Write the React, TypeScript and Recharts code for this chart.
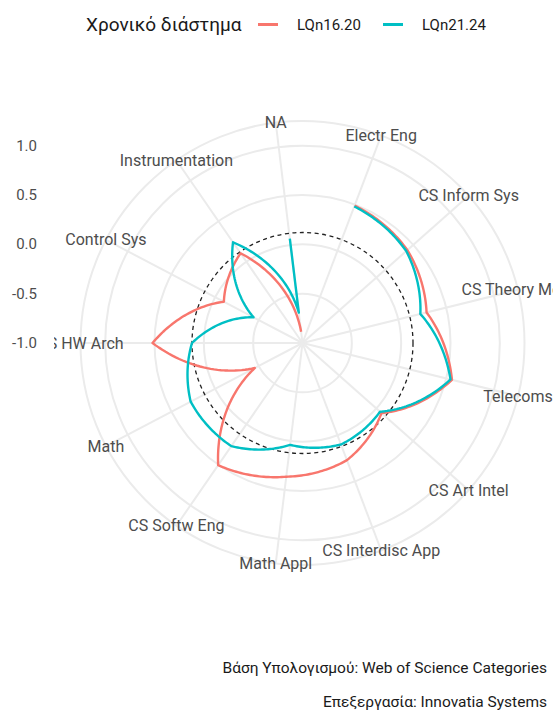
import { RadarChart, Radar, PolarGrid, PolarAngleAxis, PolarRadiusAxis } from "recharts";

const CATEGORIES = [
  "Electr Eng",
  "CS Inform Sys",
  "CS Theory Meth",
  "Telecoms",
  "CS Art Intel",
  "CS Interdisc App",
  "Math Appl",
  "CS Softw Eng",
  "Math",
  "CS HW Arch",
  "Control Sys",
  "Instrumentation",
  "NA",
];

const LQN_16_20 = [0.49, 0.42, 0.295, 0.56, 0.07, 0.27, 0.365, 0.505, -0.455, 0.52, -0.1, 0.105, -0.885];
// the NA category has two values in the later period (drawn as a radial spike)
const LQN_21_24: (number | [number, number])[] = [
  0.48, 0.405, 0.23, 0.545, 0.05, 0.1, 0.04, 0.27, 0.28, 0.12, -0.44, 0.24, [-0.69, 0.065],
];

const RADIUS_TICKS = [-1, -0.5, 0, 0.5, 1];
const RADIUS_DOMAIN: [number, number] = [-1, 1.25];
const REF_LEVEL = 0.12;

const W = 553;
const H = 711;
const CX = 302.5;
const CY = 343;
const OUTER = 222;
const LABEL_R = 222;
const PANEL_LEFT = 54;
const RAD = Math.PI / 180;
const FONT = "Roboto, 'Noto Sans', sans-serif";
const RED = "#F8766D";
const TEAL = "#00BFC4";

const data = CATEGORIES.map((cat, i) => ({
  cat,
  lq1620: LQN_16_20[i],
  lq2124: LQN_21_24[i],
}));

function rOf(v: number) {
  return ((v - RADIUS_DOMAIN[0]) / (RADIUS_DOMAIN[1] - RADIUS_DOMAIN[0])) * OUTER;
}

// open path, straight in (angle, radius) space like coord_polar
function OpenPolarPath(props: any) {
  const pts = props.points ?? [];
  const base = props.baseLinePoints ?? [];
  const seq: any[] = [];
  pts.forEach((p: any, i: number) => {
    const b = base[i];
    if (b && Math.abs(b.radius - p.radius) > 0.01) seq.push(b);
    seq.push(p);
  });
  let d = "";
  seq.forEach((p, i) => {
    if (i === 0) {
      d += `M${p.x},${p.y}`;
      return;
    }
    const q = seq[i - 1];
    const cx = p.cx ?? CX;
    const cy = p.cy ?? CY;
    const steps = 30;
    for (let s = 1; s <= steps; s++) {
      const t = s / steps;
      const a = (q.angle + (p.angle - q.angle) * t) * RAD;
      const r = q.radius + (p.radius - q.radius) * t;
      d += `L${cx + r * Math.cos(a)},${cy - r * Math.sin(a)}`;
    }
  });
  return (
    <path
      d={d}
      fill="none"
      stroke={props.stroke}
      strokeWidth={props.strokeWidth}
      strokeLinejoin="round"
    />
  );
}

function AngleTick(props: any) {
  const { payload, index } = props;
  const a = payload.coordinate * RAD;
  const x = CX + LABEL_R * Math.cos(a);
  const y = CY - LABEL_R * Math.sin(a);
  const id = `panel-clip-${index}`;
  return (
    <g>
      <defs>
        <clipPath id={id}>
          <rect x={PANEL_LEFT} y={0} width={W - PANEL_LEFT} height={H} />
        </clipPath>
      </defs>
      <text
        x={x}
        y={y}
        textAnchor="middle"
        dominantBaseline="central"
        clipPath={`url(#${id})`}
        fontSize={16}
        fill="#4d4d4d"
        fontFamily={FONT}
      >
        {payload.value}
      </text>
    </g>
  );
}

function RadiusTick(props: any) {
  const { payload, y } = props;
  if (!RADIUS_TICKS.includes(payload.value)) return <g />;
  return (
    <text
      x={37}
      y={y}
      textAnchor="end"
      dominantBaseline="central"
      fontSize={15}
      fill="#4d4d4d"
      fontFamily={FONT}
    >
      {payload.value.toFixed(1)}
    </text>
  );
}

export default function App() {
  const gridRadii = [...RADIUS_TICKS.filter((t) => t > RADIUS_DOMAIN[0]).map(rOf), OUTER];

  return (
    <div style={{ position: "absolute", left: 0, top: 0, width: W, height: H, fontFamily: FONT, background: "#fff" }}>
      {/* legend */}
      <div style={{ position: "absolute", left: 0, top: 0, width: W, height: 50 }}>
        <span style={{ position: "absolute", left: 86, top: 13, fontSize: 19, lineHeight: "24px", color: "#1a1a1a", whiteSpace: "nowrap" }}>
          Χρονικό διάστημα
        </span>
        <div style={{ position: "absolute", left: 258, top: 23, width: 20, height: 2.5, background: RED }} />
        <span style={{ position: "absolute", left: 297, top: 15, fontSize: 15, lineHeight: "20px", color: "#1a1a1a" }}>
          LQn16.20
        </span>
        <div style={{ position: "absolute", left: 383, top: 23, width: 20, height: 2.5, background: TEAL }} />
        <span style={{ position: "absolute", left: 422, top: 15, fontSize: 15, lineHeight: "20px", color: "#1a1a1a" }}>
          LQn21.24
        </span>
      </div>

      <div style={{ position: "absolute", left: 0, top: 0 }}>
        <RadarChart
          width={W}
          height={H}
          data={data}
          cx={CX}
          cy={CY}
          innerRadius={0}
          outerRadius={OUTER}
          startAngle={90 - 360 * 0.75 / CATEGORIES.length}
          endAngle={90 - 360 * 0.75 / CATEGORIES.length - 360}
          margin={{ top: 0, right: 0, bottom: 0, left: 0 }}
        >
          <PolarGrid gridType="circle" polarRadius={gridRadii} stroke="#ebebeb" strokeWidth={2} />
          <PolarGrid
            gridType="circle"
            polarRadius={[rOf(REF_LEVEL)]}
            radialLines={false}
            stroke="#222"
            strokeWidth={1.3}
            strokeDasharray="4 3.5"
          />
          <PolarAngleAxis dataKey="cat" tick={AngleTick} tickLine={false} axisLine={false} />
          <PolarRadiusAxis
            angle={90}
            type="number"
            domain={RADIUS_DOMAIN}
            ticks={RADIUS_TICKS}
            tick={RadiusTick}
            axisLine={false}
            tickLine={false}
          />
          <Radar
            name="LQn16.20"
            dataKey="lq1620"
            stroke={RED}
            strokeWidth={2.4}
            fill="none"
            shape={OpenPolarPath}
            isAnimationActive={false}
          />
          <Radar
            name="LQn21.24"
            dataKey="lq2124"
            stroke={TEAL}
            strokeWidth={2.4}
            fill="none"
            shape={OpenPolarPath}
            isAnimationActive={false}
          />
        </RadarChart>
      </div>

      {/* caption */}
      <div style={{ position: "absolute", right: 6, top: 658, fontSize: 15.5, lineHeight: "20px", color: "#1a1a1a", textAlign: "right", whiteSpace: "nowrap" }}>
        Βάση Υπολογισμού: Web of Science Categories
      </div>
      <div style={{ position: "absolute", right: 6, top: 692, fontSize: 15.5, lineHeight: "20px", color: "#1a1a1a", textAlign: "right", whiteSpace: "nowrap" }}>
        Επεξεργασία: Innovatia Systems
      </div>
    </div>
  );
}
